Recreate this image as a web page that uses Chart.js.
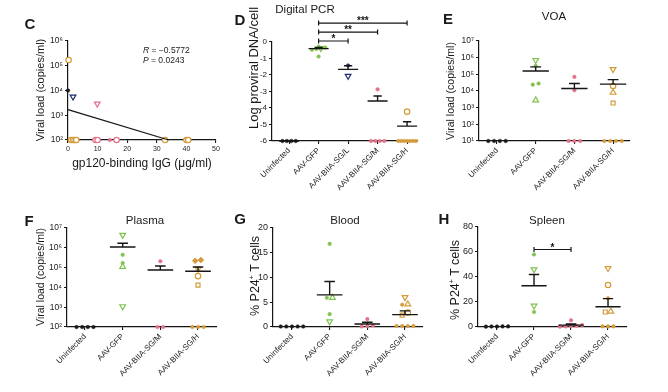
<!DOCTYPE html>
<html>
<head>
<meta charset="utf-8">
<script src="https://cdn.jsdelivr.net/npm/chart.js@4.4.1/dist/chart.umd.min.js"></script>
<style>
  body { margin: 0; background: #fff; width: 668px; height: 392px; position: relative; overflow: hidden;
         font-family: 'Liberation Sans', Arial, sans-serif; color: #1a1a1a; }
  canvas { position: absolute; }
  .t { position: absolute; white-space: nowrap; transform: translate(-50%, -50%); z-index: 2; }
  .letter { font-weight: bold; font-size: 15px; }
  .ttl { font-size: 11.5px; }
  .yt { transform: translate(-50%, -50%) rotate(-90deg); }
  .stat { position: absolute; font-size: 8.5px; white-space: nowrap; z-index: 2; transform: translateY(-50%); }
</style>
</head>
<body>
<canvas id="panelC" width="225" height="195" style="left:0;top:0"></canvas>
<canvas id="panelD" width="215" height="195" style="left:225px;top:0"></canvas>
<canvas id="panelE" width="228" height="195" style="left:440px;top:0"></canvas>
<canvas id="panelF" width="225" height="197" style="left:0;top:195px"></canvas>
<canvas id="panelG" width="215" height="197" style="left:225px;top:195px"></canvas>
<canvas id="panelH" width="228" height="197" style="left:440px;top:195px"></canvas>

<div class="t letter" style="left:30px;top:23px">C</div>
<div class="t letter" style="left:240px;top:19px">D</div>
<div class="t letter" style="left:448px;top:18px">E</div>
<div class="t letter" style="left:29px;top:220px">F</div>
<div class="t letter" style="left:240px;top:218px">G</div>
<div class="t letter" style="left:444px;top:218px">H</div>

<div class="t ttl" style="left:305px;top:9px">Digital PCR</div>
<div class="t ttl" style="left:554px;top:16px">VOA</div>
<div class="t ttl" style="left:145px;top:220px">Plasma</div>
<div class="t ttl" style="left:345px;top:220px">Blood</div>
<div class="t ttl" style="left:547px;top:220px">Spleen</div>

<div class="t yt" style="left:40px;top:90px;font-size:11px">Viral load (copies/ml)</div>
<div class="t yt" style="left:253px;top:68px;font-size:13px">Log proviral DNA/cell</div>
<div class="t yt" style="left:450px;top:91px;font-size:10.5px">Viral load (copies/ml)</div>
<div class="t yt" style="left:40px;top:277px;font-size:10.5px">Viral load (copies/ml)</div>
<div class="t yt" style="left:255px;top:276px;font-size:12.5px">% P24<sup style="font-size:7px">+</sup> T cells</div>
<div class="t yt" style="left:455px;top:280px;font-size:12.5px">% P24<sup style="font-size:7px">+</sup> T cells</div>
<div class="t" style="left:142px;top:163px;font-size:12px">gp120-binding IgG (μg/ml)</div>

<div class="stat" style="left:143px;top:50px"><i>R</i> = −0.5772</div>
<div class="stat" style="left:143px;top:60px"><i>P</i> = 0.0243</div>

<script>
// ---- data ----
const groupsFive = ['Uninfected', 'AAV-GFP', 'AAV-BIIA-SG/L', 'AAV-BIIA-SG/M', 'AAV-BIIA-SG/H'];
const groupsFour = ['Uninfected', 'AAV-GFP', 'AAV-BIIA-SG/M', 'AAV-BIIA-SG/H'];

// C: gp120-binding IgG vs viral load
const iggValues = [0.2, 0, 1.7, 9.9, 1.0, 1.6, 2.2, 2.8, 9.3, 10.0, 14.1, 16.4, 32.8, 40.0, 40.6];
const iggViralLoad = [170000, 10000, 5600, 2900, 100, 100, 100, 100, 100, 100, 100, 100, 100, 100, 100];
const iggGroup = ['H', 'U', 'L', 'M', 'H', 'H', 'H', 'H', 'M', 'M', 'M', 'M', 'H', 'H', 'H'];
const fitX = [0, 34];
const fitY = [1700, 100];

// D: digital PCR (log proviral DNA/cell)
const pcrValues = [
  [-6, -6, -6, -6],
  [-0.28, -0.33, -0.38, -0.42, -0.47, -0.88],
  [-1.42, -2.06],
  [-2.87, -6, -6, -6, -6],
  [-4.22, -6, -6, -6, -6, -6, -6, -6]
];
const pcrMean = [-6, -0.4, -1.66, -3.58, -5.1];
const pcrSem = [0, 0.07, 0.22, 0.31, 0.27];
const pcrSig = [
  { from: 1, to: 2, y: 0.06, label: '*' },
  { from: 1, to: 3, y: 0.6, label: '**' },
  { from: 1, to: 4, y: 1.15, label: '***' }
];

// E: VOA
const voaValues = [
  [10, 10, 10, 10],
  [700000, 320000, 28000, 24000, 2800],
  [70000, 11000, 10, 10, 10],
  [200000, 20000, 8000, 1900, 10, 10, 10, 10]
];
const voaMean = [null, 160000, 14000, 26000];
const voaSem = [null, 120000, 14000, 22000];

// F: plasma viral load
const plasmaValues = [
  [100, 100, 100, 100],
  [4400000, 440000, 170000, 110000, 1100],
  [210000, 100, 100],
  [240000, 220000, 85000, 37000, 13000, 100, 100, 100]
];
const plasmaMean = [null, 1100000, 75000, 65000];
const plasmaSem = [null, 600000, 45000, 42000];

// G: blood p24+ T cells (%)
const bloodValues = [
  [0.1, 0.1, 0.1, 0.1, 0.1],
  [16.8, 5.9, 5.9, 2.6, 1.1],
  [1.6, 0.3, 0.2, 0.1],
  [6.0, 4.5, 4.6, 2.9, 2.4, 0.2, 0.2, 0.2, 0.2]
];
const bloodMean = [null, 6.5, 0.6, 2.5];
const bloodSem = [null, 2.7, 0.35, 0.75];

// H: spleen p24+ T cells (%)
const spleenValues = [
  [0.5, 0.3, 0.5, 0.4, 0.4],
  [58, 46, 17, 12],
  [5.4, 1.5, 1, 0.8, 0.5, 0.3],
  [47, 33.6, 23, 12.5, 12, 0.5, 0.5, 0.5]
];
const spleenMean = [null, 33, 1.5, 16.2];
const spleenSem = [null, 9, 1, 6.5];
const spleenSig = [{ from: 1, to: 2, y: 62, label: '*' }];

// ---- styles ----
Chart.defaults.font.family = "'Liberation Sans', Arial, sans-serif";
Chart.defaults.color = '#222';
const ink = '#151515';
const colorOf = { U: '#1a1a1a', G: '#82c150', L: '#1f2c6e', M: '#e27289', H: '#d49b3b' };
const fourColors = ['U', 'G', 'M', 'H'];
const fiveColors = ['U', 'G', 'L', 'M', 'H'];

// marker codes: . small dot, o open circle, v / ^ open triangles, s open square, d diamond
const markersC = ['o', '.', 'v', 'v', 'o', 'o', 'o', 'o', 'o', 'o', '.', 'o', 'o', 'o', 'o'];
const markersD = ['....', '..v...', '.v', '.....', 'o.......'];
const markersE = ['....', 'v...^', '.....', 'vo^s....'];
const markersF = ['....', 'v..^v', '...', 'ddvos...'];
const markersG = ['.....', '..^.v', '....', 'v.^os....'];
const markersH = ['.....', '.vv.', '......', 'vo.^s...'];

function marker(code, color) {
  if (code === 'o') return { style: 'circle', r: 2.7, rot: 0, fill: '#fff', bw: 1.2 };
  if (code === 'v') return { style: 'triangle', r: 3.3, rot: 180, fill: '#fff', bw: 1.2 };
  if (code === '^') return { style: 'triangle', r: 3.3, rot: 0, fill: '#fff', bw: 1.2 };
  if (code === 's') return { style: 'rect', r: 2.8, rot: 0, fill: '#fff', bw: 1.2 };
  if (code === 'd') return { style: 'rectRot', r: 2.8, rot: 0, fill: color, bw: 1 };
  return { style: 'circle', r: 1.8, rot: 0, fill: color, bw: 0.5 };
}

const sup = d => String(d).split('').map(c => '⁰¹²³⁴⁵⁶⁷⁸⁹'[+c]).join('');

// spread points that sit at (nearly) the same height, like a dot plot
function spreadX(vals, center, isLog, range) {
  const p = vals.map(v => isLog ? Math.log10(v) : v);
  const tol = range * 0.03;
  const order = p.map((v, i) => i).sort((a, b) => p[a] - p[b]);
  const xs = new Array(vals.length).fill(center);
  let start = 0;
  while (start < order.length) {
    let end = start + 1;
    while (end < order.length && p[order[end]] - p[order[start]] < tol) end++;
    const n = end - start;
    const step = n > 1 ? Math.min(0.15, 0.6 / (n - 1)) : 0;
    for (let k = 0; k < n; k++) xs[order[start + k]] = center + (k - (n - 1) / 2) * step;
    start = end;
  }
  return xs;
}

function meanSegments(means, sems) {
  const pts = [];
  means.forEach((m, i) => {
    if (m == null) return;
    pts.push({ x: i - 0.34, y: m }, { x: i + 0.34, y: m }, { x: i, y: null });
    if (sems[i]) {
      const top = m + sems[i];
      pts.push({ x: i, y: m }, { x: i, y: top }, { x: i, y: null });
      pts.push({ x: i - 0.14, y: top }, { x: i + 0.14, y: top }, { x: i, y: null });
    }
  });
  return pts;
}

function sigPlugin(bars) {
  return {
    id: 'sig',
    afterDatasetsDraw(chart) {
      const { ctx, scales: { x, y } } = chart;
      ctx.save();
      ctx.strokeStyle = ink;
      ctx.fillStyle = ink;
      ctx.lineWidth = 1.2;
      ctx.font = 'bold 10px "Liberation Sans", Arial';
      ctx.textAlign = 'center';
      bars.forEach(b => {
        const x1 = x.getPixelForValue(b.from), x2 = x.getPixelForValue(b.to), py = y.getPixelForValue(b.y);
        ctx.beginPath();
        ctx.moveTo(x1, py); ctx.lineTo(x2, py);
        ctx.moveTo(x1, py - 2.5); ctx.lineTo(x1, py + 2.5);
        ctx.moveTo(x2, py - 2.5); ctx.lineTo(x2, py + 2.5);
        ctx.stroke();
        ctx.fillText(b.label, (x1 + x2) / 2, py + 1);
      });
      ctx.restore();
    }
  };
}

function axisStyle(fontSize) {
  return {
    grid: { drawOnChartArea: false, tickLength: 3, color: ink, lineWidth: 1.1 },
    border: { color: ink, width: 1.2 },
    ticks: { font: { size: fontSize }, color: '#222', padding: 2 }
  };
}

function layoutFor(cv, box) {
  return {
    padding: { top: box.T - cv.y, right: cv.x + cv.w - box.R, left: 0, bottom: 0 },
    yWidth: box.L - cv.x,
    xHeight: cv.y + cv.h - box.B
  };
}

function groupPanel(id, cv, box, cats, values, means, sems, markers, colorKeys, y, sig) {
  const lay = layoutFor(cv, box);
  const range = y.log ? Math.log10(y.max) - Math.log10(y.min) : y.max - y.min;
  const sets = values.map((vals, g) => {
    const xs = spreadX(vals, g, y.log, range);
    const col = colorOf[colorKeys[g]];
    const mk = markers[g].split('').map(c => marker(c, col));
    return {
      data: vals.map((v, i) => ({ x: xs[i], y: v })),
      pointStyle: mk.map(m => m.style),
      pointRadius: mk.map(m => m.r),
      pointRotation: mk.map(m => m.rot),
      pointBackgroundColor: mk.map(m => m.fill),
      pointBorderWidth: mk.map(m => m.bw),
      pointBorderColor: col,
      clip: false,
      order: 1
    };
  });
  sets.push({
    data: meanSegments(means, sems),
    showLine: true, spanGaps: false, pointRadius: 0,
    borderColor: ink, borderWidth: 1.4, clip: false, order: 0
  });

  const xAxis = axisStyle(8);
  Object.assign(xAxis, {
    type: 'linear', min: box.xMin, max: box.xMax,
    afterBuildTicks: s => { s.ticks = cats.map((c, i) => ({ value: i })); },
    afterFit: s => { s.height = lay.xHeight; }
  });
  Object.assign(xAxis.ticks, { callback: v => cats[v], minRotation: 45, maxRotation: 45, autoSkip: false });

  const yAxis = axisStyle(y.font || 8.5);
  Object.assign(yAxis, { min: y.min, max: y.max, afterFit: s => { s.width = lay.yWidth; } });
  if (y.log) {
    yAxis.type = 'logarithmic';
    yAxis.afterBuildTicks = s => {
      const t = [];
      for (let k = Math.log10(y.min); k <= Math.log10(y.max); k++) t.push({ value: Math.pow(10, k) });
      s.ticks = t;
    };
    yAxis.ticks.callback = v => '10' + sup(Math.round(Math.log10(v)));
  } else {
    yAxis.type = 'linear';
    yAxis.ticks.stepSize = y.step;
    yAxis.ticks.callback = v => String(v);
  }

  new Chart(document.getElementById(id), {
    type: 'scatter',
    data: { datasets: sets },
    options: {
      responsive: false, animation: false,
      layout: { padding: lay.padding },
      plugins: { legend: { display: false }, tooltip: { enabled: false } },
      scales: { x: xAxis, y: yAxis }
    },
    plugins: sig ? [sigPlugin(sig)] : []
  });
}

// ---- panel C ----
(function () {
  const cv = { x: 0, y: 0, w: 225, h: 195 };
  const box = { L: 68, T: 41, R: 216, B: 140 };
  const lay = layoutFor(cv, box);
  const mk = markersC.map((c, i) => marker(c, colorOf[iggGroup[i]]));
  const xAxis = axisStyle(7);
  Object.assign(xAxis, { type: 'linear', min: 0, max: 50, afterFit: s => { s.height = lay.xHeight; } });
  Object.assign(xAxis.ticks, { stepSize: 10, maxRotation: 0, minRotation: 0 });
  const yAxis = axisStyle(8.5);
  Object.assign(yAxis, {
    type: 'logarithmic', min: 100, max: 1000000,
    afterFit: s => { s.width = lay.yWidth; },
    afterBuildTicks: s => { s.ticks = [2, 3, 4, 5, 6].map(k => ({ value: Math.pow(10, k) })); }
  });
  yAxis.ticks.callback = v => '10' + sup(Math.round(Math.log10(v)));

  new Chart(document.getElementById('panelC'), {
    type: 'scatter',
    data: {
      datasets: [
        {
          data: iggValues.map((v, i) => ({ x: v, y: iggViralLoad[i] })),
          pointStyle: mk.map(m => m.style),
          pointRadius: mk.map(m => m.r),
          pointRotation: mk.map(m => m.rot),
          pointBackgroundColor: mk.map(m => m.fill),
          pointBorderWidth: mk.map(m => m.bw),
          pointBorderColor: iggGroup.map(g => colorOf[g]),
          clip: false, order: 1
        },
        {
          data: fitX.map((v, i) => ({ x: v, y: fitY[i] })),
          showLine: true, pointRadius: 0, borderColor: ink, borderWidth: 1.3, clip: false, order: 0
        }
      ]
    },
    options: {
      responsive: false, animation: false,
      layout: { padding: lay.padding },
      plugins: { legend: { display: false }, tooltip: { enabled: false } },
      scales: { x: xAxis, y: yAxis }
    }
  });
})();

// ---- panels D-H ----
groupPanel('panelD', { x: 225, y: 0, w: 215, h: 195 }, { L: 272, T: 42, R: 418, B: 141, xMin: -0.58, xMax: 4.37 },
  groupsFive, pcrValues, pcrMean, pcrSem, markersD, fiveColors, { min: -6, max: 0, step: 1, font: 8 }, pcrSig);

groupPanel('panelE', { x: 440, y: 0, w: 228, h: 195 }, { L: 479, T: 41, R: 630, B: 141, xMin: -0.465, xMax: 3.437 },
  groupsFour, voaValues, voaMean, voaSem, markersE, fourColors, { log: true, min: 10, max: 10000000 });

groupPanel('panelF', { x: 0, y: 195, w: 225, h: 197 }, { L: 67, T: 228, R: 217, B: 327, xMin: -0.478, xMax: 3.504 },
  groupsFour, plasmaValues, plasmaMean, plasmaSem, markersF, fourColors, { log: true, min: 100, max: 10000000 });

groupPanel('panelG', { x: 225, y: 195, w: 215, h: 197 }, { L: 273, T: 228, R: 423, B: 327, xMin: -0.504, xMax: 3.478 },
  groupsFour, bloodValues, bloodMean, bloodSem, markersG, fourColors, { min: 0, max: 20, step: 5, font: 9 });

groupPanel('panelH', { x: 440, y: 195, w: 228, h: 197 }, { L: 478, T: 227, R: 627, B: 327, xMin: -0.514, xMax: 3.513 },
  groupsFour, spleenValues, spleenMean, spleenSem, markersH, fourColors, { min: 0, max: 80, step: 20, font: 9 }, spleenSig);
</script>
</body>
</html>
